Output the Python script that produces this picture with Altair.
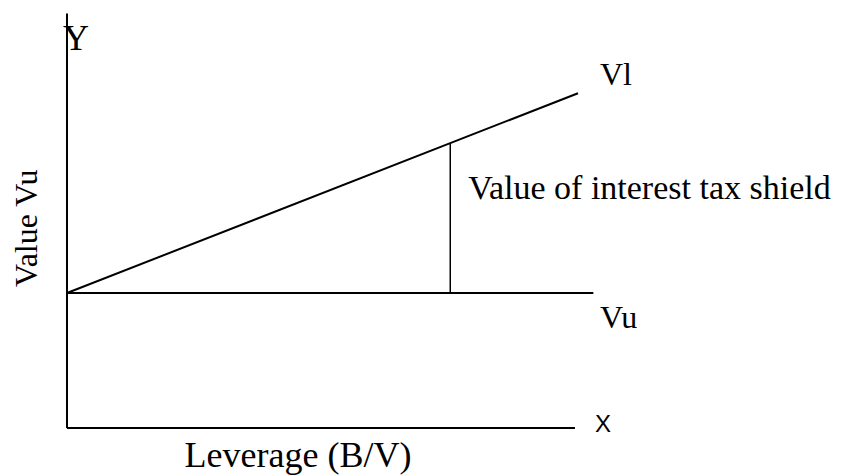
import altair as alt
import pandas as pd

# Diagram values (leverage units on x, value units on y)
vl_lev = [0, 100]
vl_val = [100, 248]
vu_lev = [0, 103]
vu_val = [100, 100]
shield_lev = [75]
shield_lo = [100]
shield_hi = [211]
yaxis_top = [307]
xaxis_end = [99.4]

label_text = ["Vl", "Vu", "Value of interest tax shield", "Y", "Leverage (B/V)"]
label_x = [104.3, 104.3, 78.5, -0.8, 45.2]
label_y = [254, 74, 169.6, 280, -28.6]
label_size = [32, 32, 34, 36, 36]
label_align = ["left", "left", "left", "left", "center"]

ytitle = ["Value Vu"]
ytitle_x = [-7.8]
ytitle_y = [148]

xmark_text = ["X"]
xmark_x = [104.9]
xmark_y = [2.2]

xs = alt.Scale(domain=[-11.546, 150.29], nice=False, zero=False)
ys = alt.Scale(domain=[-35.56, 311.11], nice=False, zero=False)

vl_df = pd.DataFrame({"lev": vl_lev, "val": vl_val})
vu_df = pd.DataFrame({"lev": vu_lev, "val": vu_val})
sh_df = pd.DataFrame({"lev": shield_lev, "lo": shield_lo, "hi": shield_hi})
ya_df = pd.DataFrame({"x": [0], "y0": [0], "y1": yaxis_top})
xa_df = pd.DataFrame({"x0": [0], "x1": xaxis_end, "y": [0]})

vl = alt.Chart(vl_df).mark_line(color="black", strokeWidth=2).encode(
    x=alt.X("lev:Q", scale=xs, axis=None), y=alt.Y("val:Q", scale=ys, axis=None))
vu = alt.Chart(vu_df).mark_line(color="black", strokeWidth=2).encode(
    x=alt.X("lev:Q", scale=xs, axis=None), y=alt.Y("val:Q", scale=ys, axis=None))
sh = alt.Chart(sh_df).mark_rule(color="black", strokeWidth=1.5).encode(
    x=alt.X("lev:Q", scale=xs, axis=None), y=alt.Y("lo:Q", scale=ys, axis=None), y2="hi:Q")
ya = alt.Chart(ya_df).mark_rule(color="black", strokeWidth=2).encode(
    x=alt.X("x:Q", scale=xs, axis=None), y=alt.Y("y0:Q", scale=ys, axis=None), y2="y1:Q")
xa = alt.Chart(xa_df).mark_rule(color="black", strokeWidth=2.2).encode(
    x=alt.X("x0:Q", scale=xs, axis=None), x2="x1:Q", y=alt.Y("y:Q", scale=ys, axis=None))

lab_df = pd.DataFrame({"t": label_text, "x": label_x, "y": label_y,
                       "s": label_size, "a": label_align})
layers = []
for al in ["left", "center"]:
    sub = lab_df[lab_df["a"] == al]
    layers.append(
        alt.Chart(sub).mark_text(font="Liberation Serif", color="black", align=al,
                                 baseline="alphabetic").encode(
            x=alt.X("x:Q", scale=xs, axis=None), y=alt.Y("y:Q", scale=ys, axis=None),
            text="t:N", size=alt.Size("s:Q", scale=None, legend=None)))

yt = alt.Chart(pd.DataFrame({"t": ytitle, "x": ytitle_x, "y": ytitle_y})).mark_text(
    font="Liberation Serif", fontSize=32, color="black", angle=270,
    align="center", baseline="middle").encode(
    x=alt.X("x:Q", scale=xs, axis=None), y=alt.Y("y:Q", scale=ys, axis=None), text="t:N")

xm = alt.Chart(pd.DataFrame({"t": xmark_text, "x": xmark_x, "y": xmark_y})).mark_text(
    font="Liberation Sans", fontSize=24, color="black",
    align="center", baseline="middle").encode(
    x=alt.X("x:Q", scale=xs, axis=None), y=alt.Y("y:Q", scale=ys, axis=None), text="t:N")

chart = alt.layer(ya, xa, vu, vl, sh, *layers, yt, xm).properties(
    width=827, height=468, padding=0, autosize=alt.AutoSizeParams(type="none"),
    background="white"
).configure_view(stroke=None)

chart.save("out.html", embed_options={"renderer": "svg", "actions": False})
